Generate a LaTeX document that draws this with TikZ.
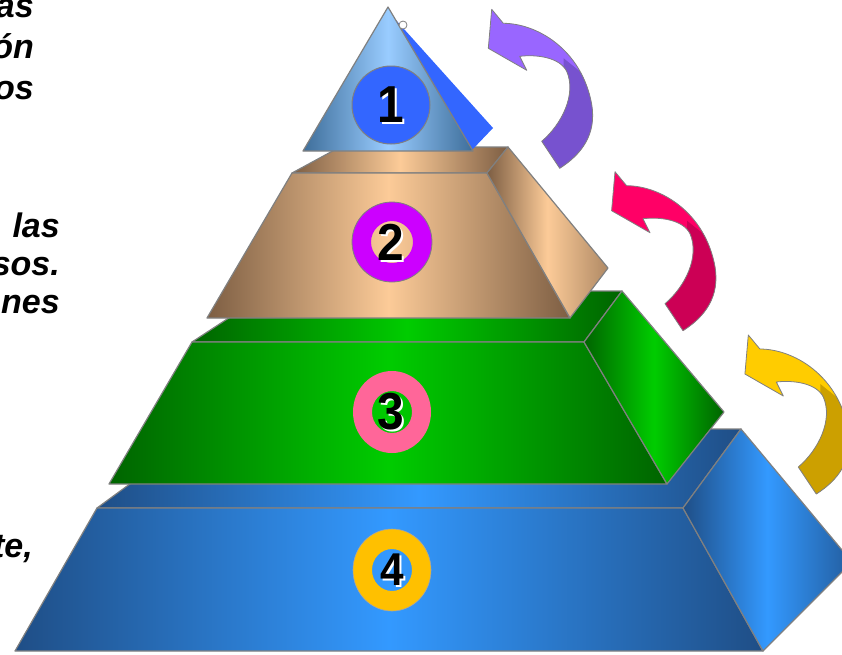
\documentclass[tikz,border=0pt]{standalone}
\usepackage{fontspec}
\newfontfamily\lsans{Liberation Sans}
\definecolor{bluDk}{HTML}{1F4E86}
\definecolor{bluBr}{HTML}{3399FF}
\definecolor{grnDk}{HTML}{006400}
\definecolor{grnBr}{HTML}{00CC00}
\definecolor{tanDk}{HTML}{7D5E43}
\definecolor{tanBr}{HTML}{FCCB98}
\definecolor{triDk}{HTML}{3E6E9A}
\definecolor{triBr}{HTML}{99CCFF}
\definecolor{triSide}{HTML}{3366FF}
\definecolor{edgeGray}{HTML}{808080}
\definecolor{ringPur}{HTML}{CC00FF}
\definecolor{ringPink}{HTML}{FF6699}
\definecolor{ringGold}{HTML}{FFC000}
\definecolor{arrPurL}{HTML}{9966FF}
\definecolor{arrPurD}{HTML}{7752CF}
\definecolor{arrPinkL}{HTML}{FF0066}
\definecolor{arrPinkD}{HTML}{CC0055}
\definecolor{arrGoldL}{HTML}{FFCC00}
\definecolor{arrGoldD}{HTML}{CCA000}
\begin{document}
\begin{tikzpicture}[x=1pt,y=-1pt,
  face/.style={draw=edgeGray, line width=1.2pt, line join=round},
  arrowline/.style={draw=edgeGray, line width=0.8pt, line join=round},
  txt/.style={font=\lsans\bfseries\itshape\fontsize{34}{40}\selectfont, inner sep=0pt},
  num/.style={font=\lsans\bfseries\fontsize{52}{52}\selectfont, inner sep=0pt, xscale=0.92},
  numsmall/.style={font=\lsans\bfseries\fontsize{46}{46}\selectfont, inner sep=0pt, xscale=0.92},
  arrowshape/.style={insert path={(0,0) -- (11.6,14) .. controls (45,14) and (90,40) .. (100,95) .. controls (105,125) and (90,145) .. (68,159) -- (50,132) .. controls (70,115) and (85,85) .. (75,62) .. controls (68,48) and (45,45) .. (28,47) -- (35,61) -- (-3.4,39) -- cycle}},
  pics/bentarrow/.style 2 args={code={
    \fill[#1, arrowshape];
    \begin{scope}
      \clip (72,49) -- (140,104) -- (140,220) -- (30,220) -- (30,80) -- (72,80) -- cycle;
      \fill[#2, arrowshape];
    \end{scope}
    \draw[arrowline, arrowshape];
  }}
]
\useasboundingbox (0,0) rectangle (842,654);

% ---------- left text fragments ----------
\node[txt, anchor=base east] (ta) at (34,17) {as};
\node[txt, anchor=base east] (tb) at (34,58) {ón};
\node[txt, anchor=base east] (tc) at (34,99) {os};
\node[txt, anchor=base east] (td) at (60,237) {las};
\node[txt, anchor=base east] (te) at (60,275) {sos.};
\node[txt, anchor=base east] (tf) at (60,313) {nes};
\node[txt, anchor=base east] (tg) at (33,557) {te,};

% ---------- level 4 (blue) ----------
\shadedraw[face, left color=bluDk, right color=bluDk, middle color=bluBr]
  (97,508) -- (205,429) -- (741,429) -- (683,508) -- cycle;
\shadedraw[face, left color=bluDk, right color=bluDk, middle color=bluBr]
  (97,508) -- (683,508) -- (763,651) -- (15,651) -- cycle;
\shadedraw[face, left color=bluDk, right color=bluDk!80!bluBr, middle color=bluBr]
  (683,508) -- (741,429) -- (852,562) -- (763,651) -- cycle;

% ---------- level 3 (green) ----------
\shadedraw[face, left color=grnDk, right color=grnDk, middle color=grnBr]
  (192,342) -- (270,291) -- (622,291) -- (584,342) -- cycle;
\shadedraw[face, left color=grnDk, right color=grnDk, middle color=grnBr]
  (192,342) -- (584,342) -- (667,484) -- (109,484) -- cycle;
\shadedraw[face, left color=grnDk, right color=grnDk, middle color=grnBr]
  (584,342) -- (622,291) -- (724,412) -- (667,484) -- cycle;

% ---------- level 2 (tan) ----------
\shadedraw[face, left color=tanDk, right color=tanDk, middle color=tanBr]
  (292,173) -- (340,147) -- (508,147) -- (487,173) -- cycle;
\shadedraw[face, left color=tanDk, right color=tanDk, middle color=tanBr]
  (292,173) -- (487,173) -- (570,318) -- (207,318) -- cycle;
\shadedraw[face, left color=tanDk, right color=tanDk!60!tanBr, middle color=tanBr]
  (487,173) -- (508,147) -- (608,268) -- (570,318) -- cycle;

% ---------- level 1 (cone / triangle) ----------
\fill[triSide] (395,19) -- (493,128) -- (472,150) -- cycle;
\shadedraw[face, left color=triDk, right color=triDk, middle color=triBr]
  (388,7) -- (473,151) -- (303,151) -- cycle;
\filldraw[fill=white, draw=edgeGray, line width=0.8pt] (403,25) circle (4);

% ---------- badges ----------
\filldraw[fill=triSide, draw=edgeGray, line width=1pt] (391,105) circle (39);
\fill[ringPur, even odd rule] (392,242) circle (40) (392,242) circle (21);
\draw[edgeGray, line width=0.8pt] (392,242) circle (40);
\fill[ringPink, even odd rule] (392,412) ellipse (39 and 41) (392,412) ellipse (20 and 21);
\fill[ringGold, even odd rule] (392,570) ellipse (39 and 41) (392,570) ellipse (20 and 21);
\draw[edgeGray!70, line width=0.6pt] (392,570) ellipse (39 and 41);

\node[num, white] (n1s) at (393,107) {1};
\node[num] (n1) at (391,105) {1};
\node[num, white] (n2s) at (393,244) {2};
\node[num] (n2) at (391,242) {2};
\node[num, white] (n3s) at (393,414) {3};
\node[num] (n3) at (391,412) {3};
\node[numsmall, white] (n4s) at (394,572) {4};
\node[numsmall] (n4) at (392,570) {4};

% ---------- curved arrows ----------
\pic (arA) at (491.7,9.3) {bentarrow={arrPurL}{arrPurD}};
\pic (arB) at (615,171.7) {bentarrow={arrPinkL}{arrPinkD}};
\pic (arC) at (748.3,335) {bentarrow={arrGoldL}{arrGoldD}};
\end{tikzpicture}
\end{document}
